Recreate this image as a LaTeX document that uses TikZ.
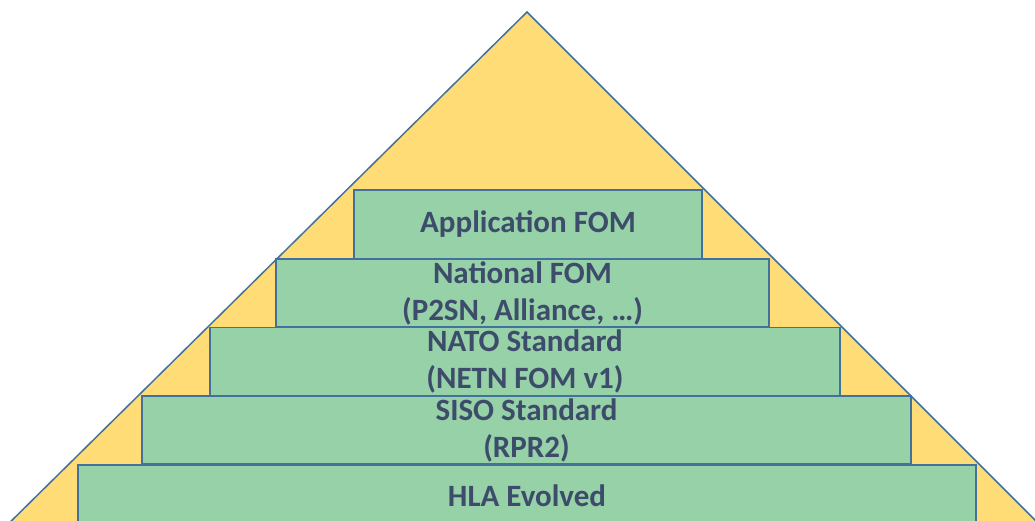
\documentclass[tikz,border=0pt]{standalone}
\usepackage{xcolor}
\usepackage{tikz}
\usetikzlibrary{positioning}
\usepackage{fontspec}
\setmainfont{Carlito}
\definecolor{pyryellow}{HTML}{FFDC75}
\definecolor{layergreen}{HTML}{96D1A7}
\definecolor{edgeblue}{HTML}{41719C}
\definecolor{textslate}{HTML}{3D4C6B}

\begin{document}
\begin{tikzpicture}[x=1pt, y=-1pt,
    layer/.style={draw=edgeblue, line width=1.5pt, fill=layergreen, rectangle,
      inner sep=0pt, align=center, text=textslate,
      font=\fontsize{31}{37}\selectfont\bfseries}]
  \useasboundingbox (0,0) rectangle (1035,521);
  \clip (0,0) rectangle (1035,521);
  % pyramid
  \coordinate (apex) at (527,12);
  \coordinate (baseL) at (-8,540);
  \coordinate (baseR) at (1055,540);
  \filldraw[fill=pyryellow, draw=edgeblue, line width=1.5pt] (apex) -- (baseL) -- (baseR) -- cycle;
  % layers
  \node[layer, minimum width=898pt, minimum height=62pt] (hla) at (527,496) {HLA Evolved};
  \node[layer, minimum width=769pt, minimum height=68pt] (siso) at (526.5,430) {SISO Standard\\(RPR2)};
  \node[layer, minimum width=630pt, minimum height=68pt] (nato) at (525,361.5) {NATO Standard\\(NETN FOM v1)};
  \node[layer, minimum width=493pt, minimum height=68pt] (national) at (522.5,293) {National FOM\\(P2SN, Alliance, …)};
  \node[layer, minimum width=348pt, minimum height=69pt] (app) at (528,224.5) {Application FOM};
\end{tikzpicture}
\end{document}
